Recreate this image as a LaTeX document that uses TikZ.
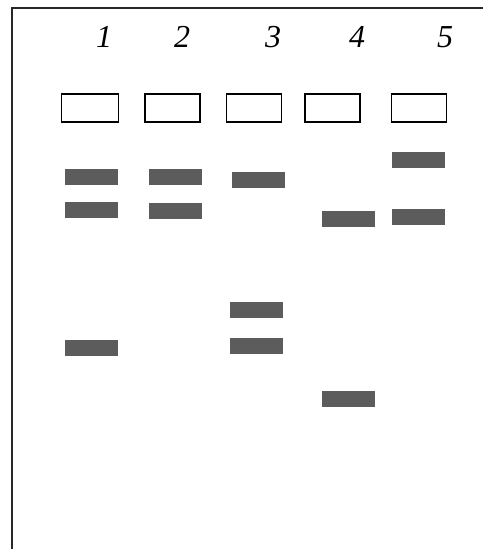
\documentclass[tikz,border=0pt]{standalone}
\usepackage{fontspec}
\setmainfont{Liberation Serif}
\definecolor{bandgray}{RGB}{92,92,92}
\definecolor{framegray}{RGB}{40,40,40}
\begin{document}
\begin{tikzpicture}[x=1pt,y=-1pt,
  lanelabel/.style={anchor=base,inner sep=0pt,font=\itshape\fontsize{32}{32}\selectfont},
  well/.style={draw=black,line width=1.1pt,minimum width=55pt,minimum height=28pt,inner sep=0pt},
  band/.style={fill=bandgray,draw=none,minimum width=53pt,minimum height=16pt,inner sep=0pt},
  frameline/.style={draw=framegray,line width=2pt}]
\useasboundingbox (0,0) rectangle (483,549);
% frame
\coordinate (fb) at (11.7,549);
\coordinate (fc) at (11.7,7.5);
\coordinate (fr) at (483,7.5);
\draw[frameline] (fb) -- (fc) -- (fr);
% lane labels
\node[lanelabel] (l1) at (104,47) {1};
\node[lanelabel] (l2) at (182,47) {2};
\node[lanelabel] (l3) at (273,47) {3};
\node[lanelabel] (l4) at (357,47) {4};
\node[lanelabel] (l5) at (445,47) {5};
% wells
\node[well,minimum width=56.6pt] (w1) at (90,108) {};
\node[well] (w2) at (172.5,108) {};
\node[well] (w3) at (254.2,108) {};
\node[well] (w4) at (332.5,108) {};
\node[well] (w5) at (419.2,108) {};
% bands
\node[band] (b1a) at (91.7,177.2) {};
\node[band] (b1b) at (91.7,209.5) {};
\node[band] (b1c) at (91.7,348) {};
\node[band] (b2a) at (175.8,177.2) {};
\node[band] (b2b) at (175.8,211.2) {};
\node[band] (b3a) at (258.3,179.5) {};
\node[band] (b3b) at (256,310.2) {};
\node[band] (b3c) at (256,346.2) {};
\node[band] (b4a) at (348.3,219.2) {};
\node[band] (b4b) at (348.5,398.7) {};
\node[band] (b5a) at (418.8,159.5) {};
\node[band] (b5b) at (418.8,217.3) {};
\end{tikzpicture}
\end{document}
